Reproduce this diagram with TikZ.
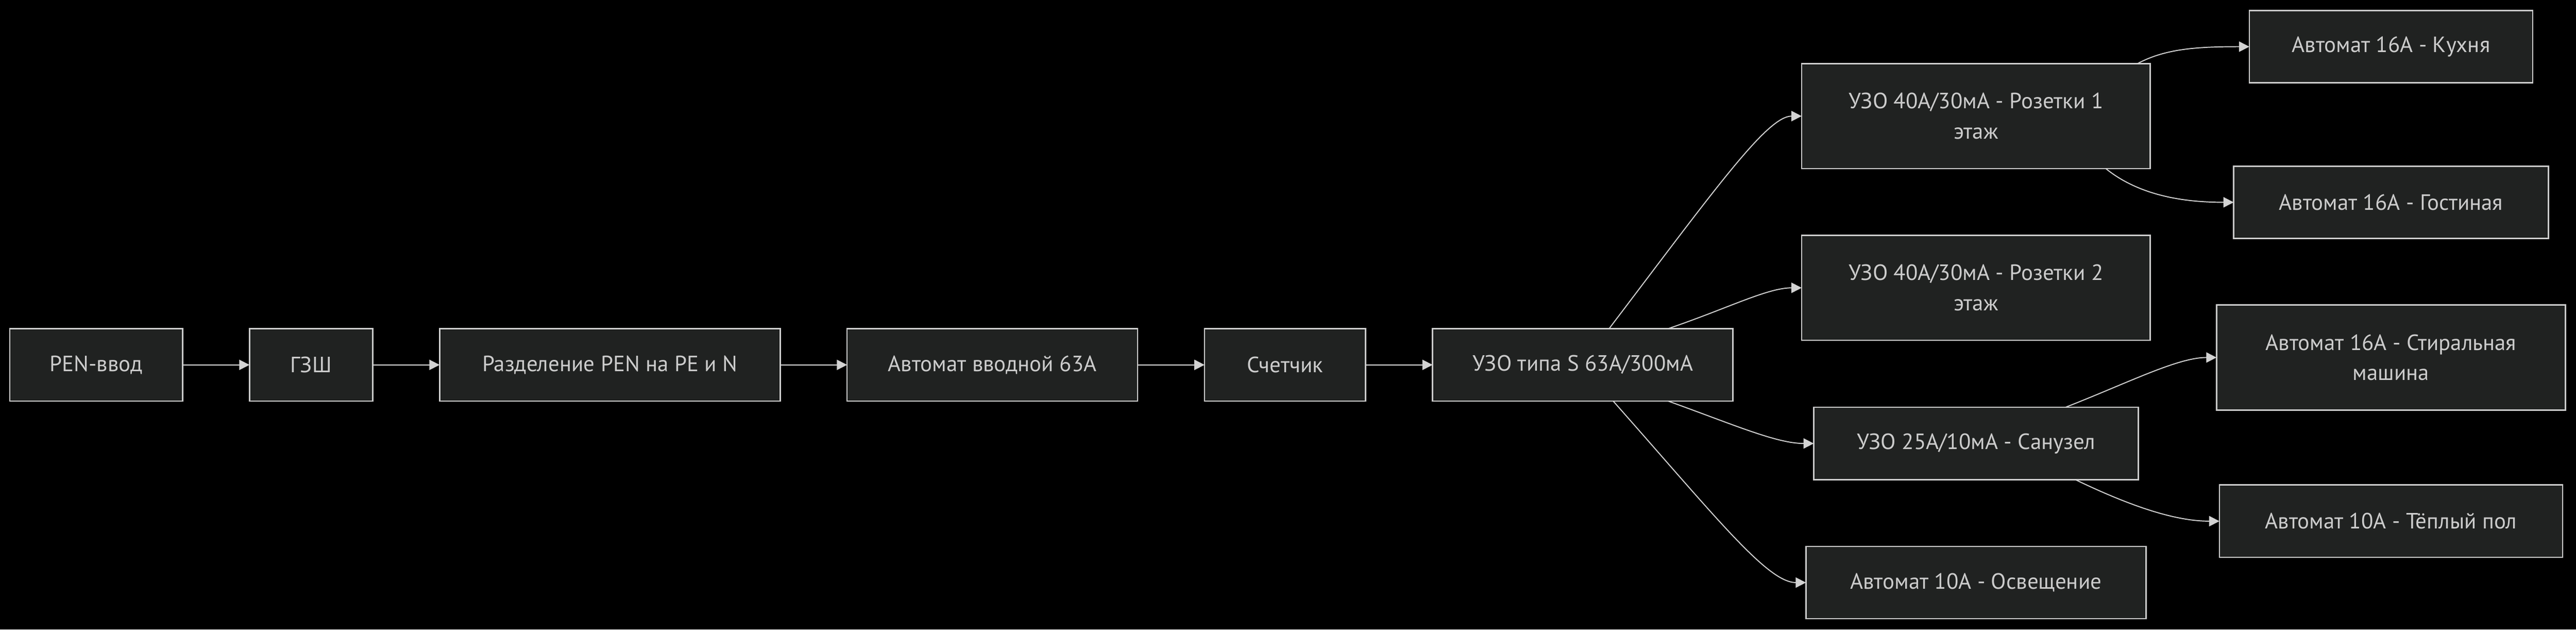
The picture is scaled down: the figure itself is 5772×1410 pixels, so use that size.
\documentclass[tikz,border=0pt]{standalone}
\usepackage{fontspec}
\setmainfont{PT Sans}
\usetikzlibrary{positioning,arrows.meta}

\definecolor{boxfill}{RGB}{32,34,33}
\definecolor{boxline}{RGB}{204,204,204}
\definecolor{boxtext}{RGB}{204,204,204}
\definecolor{wirecol}{RGB}{211,211,211}

\tikzstyle{box} = [draw=boxline, line width=0.6pt, fill=boxfill, text=boxtext,
    minimum height=32.4pt, inner sep=0pt, outer sep=0pt, align=center,
    font=\fontsize{9.9}{13.6}\selectfont]
\tikzstyle{tall} = [minimum height=47pt]
\tikzstyle{wire} = [draw=wirecol, line width=0.45pt,
    -{Triangle[length=4.6pt,width=4.6pt]}]

\begin{document}
\begin{tikzpicture}[x=0.2pt, y=-0.2pt, node distance=30pt]
\fill[black] (0,0) rectangle (5772,1410);
\useasboundingbox (0,0) rectangle (5772,1410);

% main line
\node[box, minimum width=77.4pt] (pen) at (215.5,817) {PEN-ввод};
\node[box, minimum width=55.2pt, right=of pen] (gzsh) {ГЗШ};
\node[box, minimum width=152.6pt, right=of gzsh] (split) {Разделение PEN на PE и N};
\node[box, minimum width=130.2pt, right=of split] (mainbrk) {Автомат вводной 63А};
\node[box, minimum width=72.2pt, right=of mainbrk] (meter) {Счетчик};
\node[box, minimum width=134.6pt, right=of meter] (rcdS) {УЗО типа S 63А/300мА};

% groups
\node[box, tall, minimum width=156.2pt] (rcdA) at (4427.5,260) {УЗО 40А/30мА - Розетки 1\\этаж};
\node[box, tall, minimum width=156.2pt] (rcdB) at (4427.5,644.5) {УЗО 40А/30мА - Розетки 2\\этаж};
\node[box, minimum width=145.4pt] (rcdBath) at (4427.5,993) {УЗО 25А/10мА - Санузел};
\node[box, minimum width=152.4pt] (light) at (4427.5,1304.5) {Автомат 10А - Освещение};

% lines
\node[box, minimum width=127pt] (kitchen) at (5357.5,104.5) {Автомат 16А - Кухня};
\node[box, minimum width=141pt] (living) at (5357.5,453) {Автомат 16А - Гостиная};
\node[box, tall, minimum width=156.4pt] (washer) at (5357.5,800.5) {Автомат 16А - Стиральная\\машина};
\node[box, minimum width=153.8pt] (floor) at (5357.5,1167) {Автомат 10А - Тёплый пол};

\draw[wire] (pen) -- (gzsh);
\draw[wire] (gzsh) -- (split);
\draw[wire] (split) -- (mainbrk);
\draw[wire] (mainbrk) -- (meter);
\draw[wire] (meter) -- (rcdS);

\draw[wire] (rcdS.54) .. controls +(240,-316) and +(-77,0) .. (rcdA.west);
\draw[wire] (rcdS.23) .. controls +(135,-46) and +(-77,0) .. (rcdB.west);
\draw[wire] (rcdS.-23) .. controls +(145,52) and +(-84,0) .. (rcdBath.west);
\draw[wire] (rcdS.-50) .. controls +(232,262) and +(-86,0) .. (light.west);

\draw[wire] (rcdA.18.5) .. controls +(62,-33) and +(-120,0) .. (kitchen.west);
\draw[wire] (rcdA.-22.4) .. controls +(78,63) and +(-105,0) .. (living.west);
\draw[wire] (rcdBath.22.3) .. controls +(143,-56) and +(-87,0) .. (washer.west);
\draw[wire] (rcdBath.-20.7) .. controls +(135,65) and +(-93,0) .. (floor.west);
\end{tikzpicture}
\end{document}
